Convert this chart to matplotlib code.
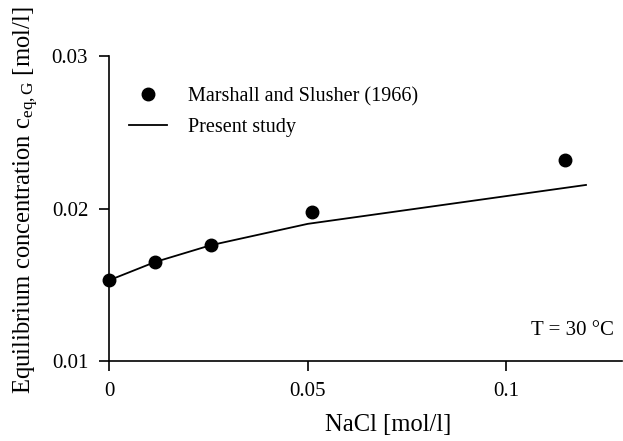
import matplotlib.pyplot as plt
import numpy as np

plt.rcParams['font.family'] = ['Liberation Serif', 'DejaVu Serif']
plt.rcParams['mathtext.fontset'] = 'custom'
plt.rcParams['mathtext.rm'] = 'Liberation Serif'
plt.rcParams['mathtext.it'] = 'Liberation Serif'

# Marshall and Slusher (1966)
exp_nacl = [0.0, 0.0116, 0.0256, 0.051, 0.1148]
exp_ceq = [0.0153, 0.0165, 0.0176, 0.0198, 0.0232]

# present study
model_nacl = [0.0, 0.0116, 0.0256, 0.05, 0.12]
model_ceq = [0.0153, 0.0165, 0.0176, 0.0190, 0.02155]

fig = plt.figure(figsize=(6.23, 4.41), dpi=100)
ax = fig.add_axes([0.175, 0.181, 0.823, 0.692])

ax.plot(model_nacl, model_ceq, color='black', lw=1.3, label='Present study')
ax.plot(exp_nacl, exp_ceq, 'o', color='black', ms=9, label='Marshall and Slusher (1966)', clip_on=False, zorder=3)

ax.set_xlim(0, 0.129)
ax.set_ylim(0.01, 0.03)
ax.set_xticks([0, 0.05, 0.1])
ax.set_xticklabels(['0', '0.05', '0.1'])
ax.set_yticks([0.01, 0.02, 0.03])
ax.set_yticklabels(['0.01', '0.02', '0.03'])
ax.tick_params(direction='out', length=7, width=1.2, labelsize=15, pad=8)

for s in ['top', 'right']:
    ax.spines[s].set_visible(False)
for s in ['left', 'bottom']:
    ax.spines[s].set_linewidth(1.2)

ax.set_xlabel('NaCl [mol/l]', fontsize=17.7)
ax.xaxis.set_label_coords(0.544, -0.173)
ax.set_ylabel(r'Equilibrium concentration c$_{\mathrm{eq,G}}$ [mol/l]', fontsize=17.7)
ax.yaxis.set_label_coords(-0.132, 0.528)

handles, labels = ax.get_legend_handles_labels()
ax.legend(handles[::-1], labels[::-1], loc='upper left', bbox_to_anchor=(0.004, 0.958),
          frameon=False, fontsize=14.5, handlelength=1.9, handletextpad=1.0, labelspacing=0.59)

ax.text(0.985, 0.1, 'T = 30 °C', transform=ax.transAxes, ha='right', va='center', fontsize=15)

fig.savefig('out.png', dpi=100)
